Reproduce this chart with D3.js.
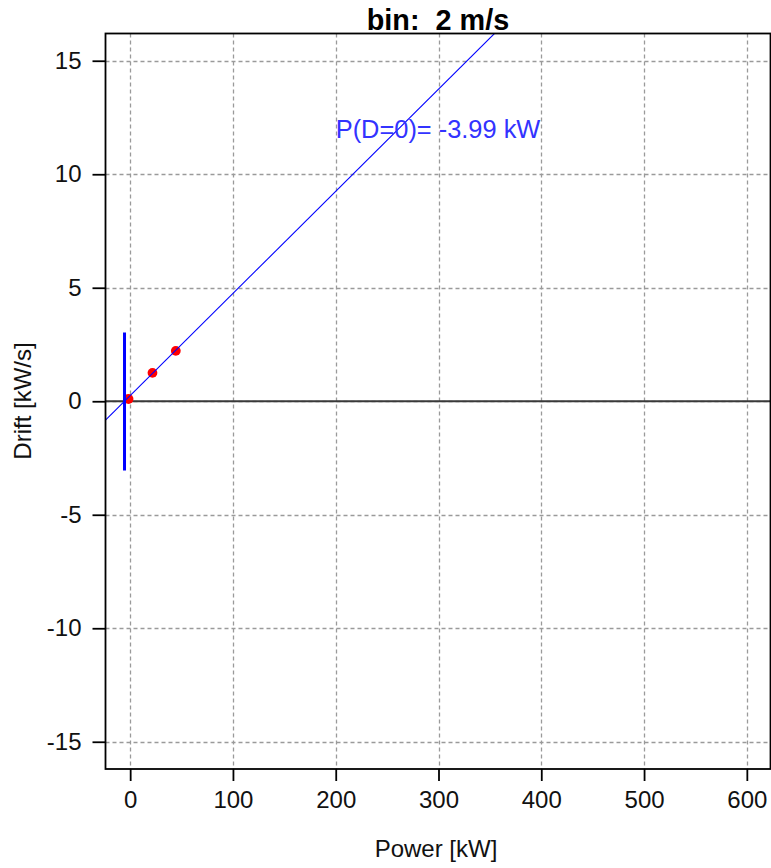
<!DOCTYPE html>
<html>
<head>
<meta charset="utf-8">
<script src="https://cdn.jsdelivr.net/npm/d3@7"></script>
<style>
  html, body { margin: 0; padding: 0; background: #fff; }
  svg { display: block; font-family: "Liberation Sans", Arial, sans-serif; }
  text { white-space: pre; }
</style>
</head>
<body>
<svg id="chart" width="771" height="868"></svg>
<script>
// ---- data ----
const title = "bin:  2 m/s";
const xLabel = "Power [kW]";
const yLabel = "Drift [kW/s]";
const xTicks = [0, 100, 200, 300, 400, 500, 600];
const yTicks = [-15, -10, -5, 0, 5, 10, 15];
const xLimits = [-24, 624];
const yLimits = [-16.2, 16.2];
const pointPower = [-1.6, 21.7, 44.4];
const pointDrift = [0.1, 1.25, 2.22];
const fitSlope = 0.045;
const fitIntercept = 0.247;
const zeroPower = -5.5;          // position of vertical marker
const zeroBand = [-3.05, 3.03];  // vertical extent of marker
const annotText = "P(D=0)= -3.99 kW";
const annotPos = [200, 12];

// ---- layout ----
const svg = d3.select("#chart");
const pLeft = 105.5, pRight = 771.5, pTop = 33.5, pBottom = 769;
const x = d3.scaleLinear().domain(xLimits).range([pLeft, pRight]);
const y = d3.scaleLinear().domain(yLimits).range([pBottom, pTop]);

svg.append("defs").append("clipPath").attr("id", "clip")
  .append("rect").attr("x", pLeft).attr("y", pTop)
  .attr("width", pRight - pLeft).attr("height", pBottom - pTop);

const plot = svg.append("g").attr("clip-path", "url(#clip)");

// grid
plot.selectAll(".gx").data(xTicks).enter().append("line")
  .attr("x1", d => Math.round(x(d)) + 0.5).attr("x2", d => Math.round(x(d)) + 0.5)
  .attr("y1", pTop).attr("y2", pBottom)
  .attr("stroke", "#9a9a9a").attr("stroke-width", 1.3).attr("stroke-dasharray", "4,3");
plot.selectAll(".gy").data(yTicks).enter().append("line")
  .attr("y1", d => Math.round(y(d)) + 0.5).attr("y2", d => Math.round(y(d)) + 0.5)
  .attr("x1", pLeft).attr("x2", pRight)
  .attr("stroke", "#9a9a9a").attr("stroke-width", 1.3).attr("stroke-dasharray", "4,3");

// zero line
plot.append("line")
  .attr("x1", pLeft).attr("x2", pRight)
  .attr("y1", y(0)).attr("y2", y(0))
  .attr("stroke", "#3a3a3a").attr("stroke-width", 2);

// points
const pts = pointPower.map((p, i) => ({p, d: pointDrift[i]}));
plot.selectAll(".pt").data(pts).enter().append("circle")
  .attr("cx", d => x(d.p)).attr("cy", d => y(d.d)).attr("r", 4.9)
  .attr("fill", "#ff0000");

// fit line
plot.append("line")
  .attr("x1", x(xLimits[0])).attr("y1", y(fitIntercept + fitSlope * xLimits[0]))
  .attr("x2", x(xLimits[1])).attr("y2", y(fitIntercept + fitSlope * xLimits[1]))
  .attr("stroke", "#0000ff").attr("stroke-width", 1.1);

// vertical marker
plot.append("line")
  .attr("x1", x(zeroPower)).attr("x2", x(zeroPower))
  .attr("y1", y(zeroBand[0])).attr("y2", y(zeroBand[1]))
  .attr("stroke", "#0000ff").attr("stroke-width", 3);

// annotation
svg.append("text")
  .attr("x", x(annotPos[0])).attr("y", y(annotPos[1]))
  .attr("dy", "0.35em")
  .attr("font-size", 25.4).attr("fill", "#3333ff")
  .text(annotText);

// box
svg.append("rect")
  .attr("x", pLeft).attr("y", pTop)
  .attr("width", pRight - pLeft - 1).attr("height", pBottom - pTop)
  .attr("fill", "none").attr("stroke", "#000").attr("stroke-width", 1.8);

// axes
const fmt = d => String(d);
const xAxis = svg.append("g").attr("transform", `translate(0,${pBottom})`)
  .call(d3.axisBottom(x).tickValues(xTicks).tickSize(12).tickPadding(10).tickFormat(fmt));
const yAxis = svg.append("g").attr("transform", `translate(${pLeft},0)`)
  .call(d3.axisLeft(y).tickValues(yTicks).tickSize(13).tickPadding(11).tickFormat(fmt));
[xAxis, yAxis].forEach(a => {
  a.select(".domain").remove();
  a.selectAll(".tick line").attr("stroke", "#000").attr("stroke-width", 1.8);
  a.selectAll(".tick text").attr("font-size", 24).attr("fill", "#111")
    .attr("font-family", "Liberation Sans, Arial, sans-serif");
});
xAxis.selectAll(".tick text").attr("dy", "0.71em");

// titles
svg.append("text").attr("x", 438).attr("y", 30)
  .attr("text-anchor", "middle").attr("font-size", 28.8).attr("font-weight", "bold")
  .attr("fill", "#000").text(title);
svg.append("text").attr("x", 436).attr("y", 857)
  .attr("text-anchor", "middle").attr("font-size", 24).attr("fill", "#111").text(xLabel);
svg.append("text").attr("transform", `translate(31,401) rotate(-90)`)
  .attr("text-anchor", "middle").attr("font-size", 24).attr("fill", "#111").text(yLabel);
</script>
</body>
</html>
